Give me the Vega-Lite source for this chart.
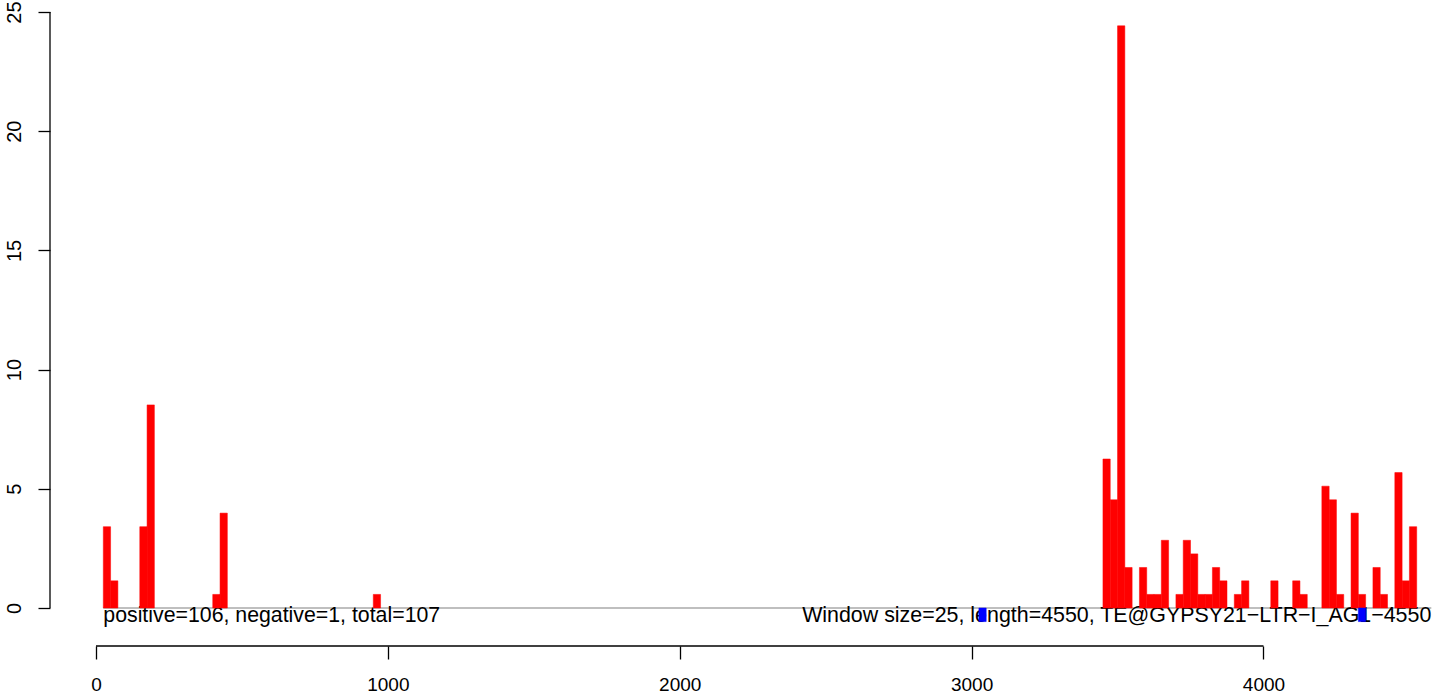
{
  "$schema": "https://vega.github.io/schema/vega-lite/v6.json",
  "width": 1394,
  "height": 634,
  "autosize": {"type": "none"},
  "padding": {"left": 50, "top": 12, "right": 0, "bottom": 51},
  "background": "white",
  "config": {
    "view": {"stroke": null},
    "font": "Liberation Sans",
    "axis": {"labelFont": "Liberation Sans", "grid": false, "domain": false, "tickColor": "black", "labelColor": "black", "tickWidth": 1.3, "labelOverlap": false, "labelFlush": false, "title": null}
  },
  "datasets": {
    "bins": [
      {"start": 25, "end": 50, "value": 3.41, "strand": "+"},
      {"start": 50, "end": 75, "value": 1.14, "strand": "+"},
      {"start": 150, "end": 175, "value": 3.41, "strand": "+"},
      {"start": 175, "end": 200, "value": 8.52, "strand": "+"},
      {"start": 400, "end": 425, "value": 0.57, "strand": "+"},
      {"start": 425, "end": 450, "value": 3.98, "strand": "+"},
      {"start": 950, "end": 975, "value": 0.57, "strand": "+"},
      {"start": 3450, "end": 3475, "value": 6.25, "strand": "+"},
      {"start": 3475, "end": 3500, "value": 4.54, "strand": "+"},
      {"start": 3500, "end": 3525, "value": 24.42, "strand": "+"},
      {"start": 3525, "end": 3550, "value": 1.70, "strand": "+"},
      {"start": 3575, "end": 3600, "value": 1.70, "strand": "+"},
      {"start": 3600, "end": 3625, "value": 0.57, "strand": "+"},
      {"start": 3625, "end": 3650, "value": 0.57, "strand": "+"},
      {"start": 3650, "end": 3675, "value": 2.84, "strand": "+"},
      {"start": 3700, "end": 3725, "value": 0.57, "strand": "+"},
      {"start": 3725, "end": 3750, "value": 2.84, "strand": "+"},
      {"start": 3750, "end": 3775, "value": 2.27, "strand": "+"},
      {"start": 3775, "end": 3800, "value": 0.57, "strand": "+"},
      {"start": 3800, "end": 3825, "value": 0.57, "strand": "+"},
      {"start": 3825, "end": 3850, "value": 1.70, "strand": "+"},
      {"start": 3850, "end": 3875, "value": 1.14, "strand": "+"},
      {"start": 3900, "end": 3925, "value": 0.57, "strand": "+"},
      {"start": 3925, "end": 3950, "value": 1.14, "strand": "+"},
      {"start": 4025, "end": 4050, "value": 1.14, "strand": "+"},
      {"start": 4100, "end": 4125, "value": 1.14, "strand": "+"},
      {"start": 4125, "end": 4150, "value": 0.57, "strand": "+"},
      {"start": 4200, "end": 4225, "value": 5.11, "strand": "+"},
      {"start": 4225, "end": 4250, "value": 4.54, "strand": "+"},
      {"start": 4250, "end": 4275, "value": 0.57, "strand": "+"},
      {"start": 4300, "end": 4325, "value": 3.98, "strand": "+"},
      {"start": 4325, "end": 4350, "value": 0.57, "strand": "+"},
      {"start": 4375, "end": 4400, "value": 1.70, "strand": "+"},
      {"start": 4400, "end": 4425, "value": 0.57, "strand": "+"},
      {"start": 4450, "end": 4475, "value": 5.68, "strand": "+"},
      {"start": 4475, "end": 4500, "value": 1.14, "strand": "+"},
      {"start": 4500, "end": 4525, "value": 3.41, "strand": "+"},
      {"start": 3025, "end": 3050, "value": -0.57, "strand": "-"},
      {"start": 4325, "end": 4350, "value": -0.57, "strand": "-"}
    ]
  },
  "layer": [
    {
      "data": {"values": [{}]},
      "mark": {"type": "rule", "color": "#808080", "strokeWidth": 1.2},
      "encoding": {
        "x": {"datum": 25, "type": "quantitative", "scale": {"domain": [-157.6, 4618.5], "nice": false, "zero": false}},
        "x2": {"datum": 4575},
        "y": {"datum": 0, "type": "quantitative", "scale": {"domain": [-1.594, 25], "nice": false, "zero": false}}
      }
    },
    {
      "data": {"values": [{}]},
      "mark": {"type": "rule", "color": "black", "strokeWidth": 1.3},
      "encoding": {
        "x": {"datum": 0, "type": "quantitative"},
        "x2": {"datum": 4000},
        "y": {"datum": -1.594, "type": "quantitative"}
      }
    },
    {
      "data": {"values": [{}]},
      "mark": {"type": "rule", "color": "black", "strokeWidth": 1.3},
      "encoding": {
        "x": {"datum": -157.6, "type": "quantitative"},
        "y": {"datum": 0, "type": "quantitative"},
        "y2": {"datum": 25}
      }
    },
    {
      "data": {"values": [{}]},
      "mark": {"type": "text", "align": "left", "baseline": "alphabetic", "fontSize": 21.3, "font": "Liberation Sans", "color": "black"},
      "encoding": {
        "x": {"datum": 25, "type": "quantitative"},
        "y": {"datum": -0.587, "type": "quantitative"},
        "text": {"value": "positive=106, negative=1, total=107"}
      }
    },
    {
      "data": {"values": [{}]},
      "mark": {"type": "text", "align": "right", "baseline": "alphabetic", "fontSize": 21.4, "font": "Liberation Sans", "color": "black"},
      "encoding": {
        "x": {"datum": 4575, "type": "quantitative"},
        "y": {"datum": -0.587, "type": "quantitative"},
        "text": {"value": "Window size=25, length=4550, TE@GYPSY21−LTR−I_AG1−4550"}
      }
    },
    {
      "data": {"name": "bins"},
      "mark": {"type": "rect", "strokeWidth": 0.5},
      "encoding": {
        "x": {"field": "start", "type": "quantitative", "axis": {"values": [0, 1000, 2000, 3000, 4000], "format": "d", "tickSize": 13, "labelFontSize": 19, "labelPadding": 16}},
        "x2": {"field": "end"},
        "y": {"field": "value", "type": "quantitative", "axis": {"values": [0, 5, 10, 15, 20, 25], "tickSize": 12, "labelFontSize": 20, "labelAngle": 270, "labelAlign": "center", "labelBaseline": "alphabetic", "labelPadding": 18}},
        "y2": {"datum": 0},
        "color": {"field": "strand", "type": "nominal", "scale": {"domain": ["+", "-"], "range": ["#ff0000", "#0000ff"]}, "legend": null},
        "stroke": {"field": "strand", "type": "nominal", "scale": {"domain": ["+", "-"], "range": ["#ff0000", "#0000ff"]}, "legend": null}
      }
    }
  ]
}
